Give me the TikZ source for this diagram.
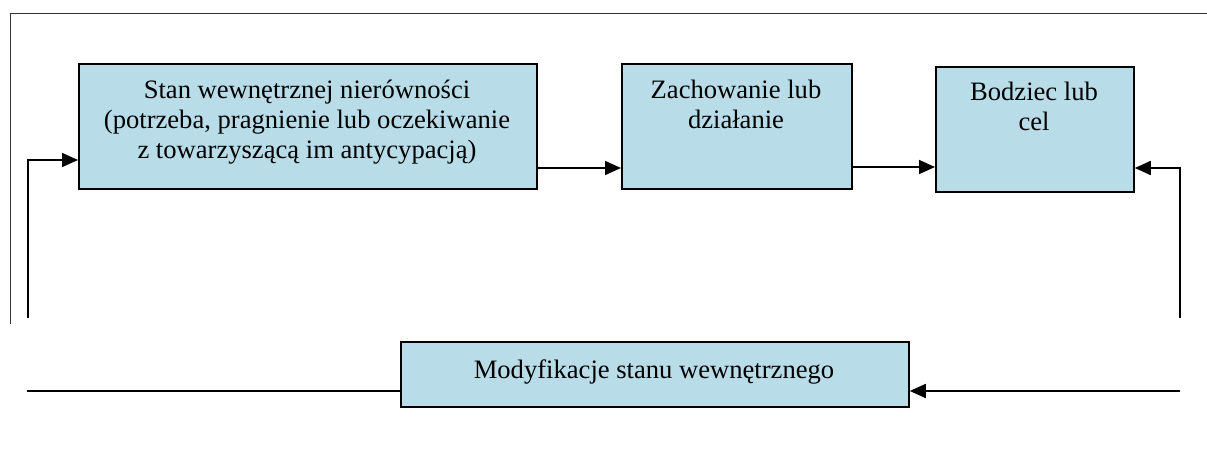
\documentclass[tikz,border=0pt]{standalone}
\usepackage{fontspec}
\setmainfont{Liberation Serif}
\usetikzlibrary{arrows.meta}
\definecolor{boxfill}{HTML}{B8DDE8}
\newcommand\boxtext[1]{\begin{tabular}[t]{@{}c@{}}#1\end{tabular}}
\tikzset{
  box/.style={draw=black, line width=1.8pt, fill=boxfill, rectangle, inner sep=0pt, anchor=north west},
  txt/.style={anchor=base, inner sep=0pt, font=\fontsize{26.6}{30}\selectfont},
  conn/.style={line width=1.8pt, draw=black},
  arr/.style={conn, -{Triangle[length=16pt,width=14pt]}},
  frame/.style={line width=1pt, draw=black!80}
}
\begin{document}
\begin{tikzpicture}[x=1pt,y=-1pt]
\useasboundingbox (0,0) rectangle (1207,463);
% frame lines
\coordinate (ftl) at (10,13);
\coordinate (ftr) at (1207,13);
\coordinate (fbl) at (10,324);
\draw[frame] (fbl) -- (ftl) -- (ftr);
% boxes
\node[box, minimum width=458pt, minimum height=125pt] (b1) at (78,63) {};
\node[box, minimum width=230pt, minimum height=125pt] (b2) at (621,63) {};
\node[box, minimum width=198pt, minimum height=125pt] (b3) at (935,66) {};
\node[box, minimum width=508pt, minimum height=65pt] (b4) at (400,341) {};
% texts
\node[txt] (t1) at (307,98) {\boxtext{Stan wewnętrznej nierówności\\(potrzeba, pragnienie lub oczekiwanie\\z towarzyszącą im antycypacją)}};
\node[txt] (t2) at (736,98) {\boxtext{Zachowanie lub\\działanie}};
\node[txt] (t3) at (1034,100) {\boxtext{Bodziec lub\\cel}};
\node[txt] (t4) at (654,378) {Modyfikacje stanu wewnętrznego};
% connector coordinates
\coordinate (lb) at (28,318);
\coordinate (lt) at (28,160);
\coordinate (rb) at (1180,318);
\coordinate (rt) at (1180,168);
\coordinate (br) at (1180,391);
\coordinate (bl) at (27,391);
% connectors
\draw[arr] (lb) -- (lt) -- (lt -| b1.west);
\draw[arr] (b1.east |- 0,168) -- (b2.west |- 0,168);
\draw[arr] (b2.east |- 0,167) -- (b3.west |- 0,167);
\draw[arr] (rb) -- (rt) -- (rt -| b3.east);
\draw[arr] (br) -- (br -| b4.east);
\draw[conn] (b4.west |- bl) -- (bl);
\end{tikzpicture}
\end{document}
